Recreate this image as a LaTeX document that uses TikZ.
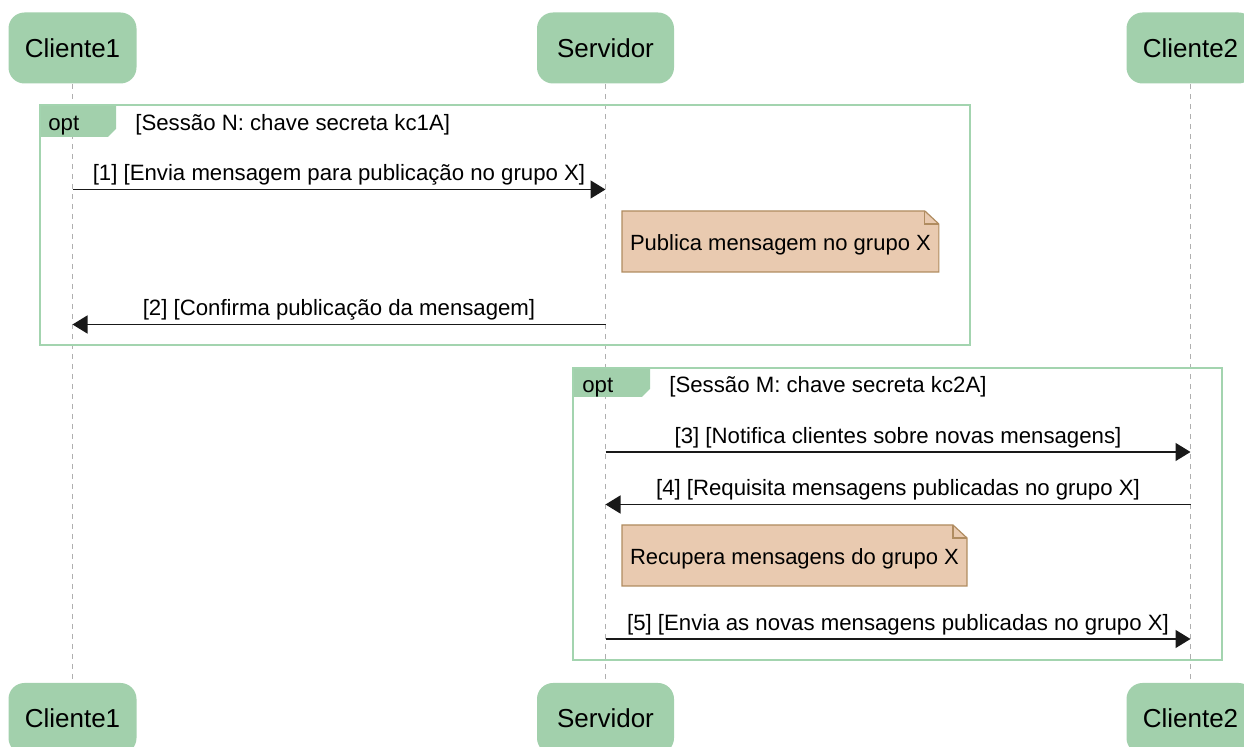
\documentclass[tikz,border=0pt]{standalone}
\usepackage{fontspec}
\setmainfont{Liberation Sans}
\usepackage{xcolor}
\usetikzlibrary{positioning, arrows.meta, backgrounds}
\definecolor{part-green}{RGB}{162,208,172}
\definecolor{frame-green}{RGB}{163,212,175}
\definecolor{note-tan}{RGB}{233,202,176}
\definecolor{note-brown}{RGB}{176,140,96}
\definecolor{life-gray}{RGB}{175,175,175}

\begin{document}
\begin{tikzpicture}[x=0.5pt, y=-0.5pt]
				\tikzset{part/.style={rectangle, fill=part-green, rounded corners=8pt, minimum width=64pt, minimum height=35.5pt, inner xsep=8pt, font=\fontsize{13}{15}\selectfont}}
				\tikzset{lifeline/.style={life-gray, line width=0.5pt, dash pattern=on 2.5pt off 2.5pt}}
				\tikzset{msg/.style={-{Triangle[length=7.5pt, width=9pt]}, line width=0.75pt, black!90}}
				\tikzset{lbl/.style={above, midway, inner sep=2pt, yshift=-0.3pt, font=\fontsize{11.1}{13}\selectfont, text=black}}
				\tikzset{frame/.style={draw=frame-green, line width=1.25pt}}
				\tikzset{tag/.style={fill=part-green}}
				\tikzset{guard/.style={anchor=base west, inner sep=0pt, font=\fontsize{11.1}{13}\selectfont}}
				\tikzset{note/.style={anchor=north west, inner xsep=4pt, inner ysep=0pt, outer sep=0pt, text height=19.85pt, text depth=10.65pt, font=\fontsize{11}{13}\selectfont}}
				
				\useasboundingbox (0,0) rectangle (1244,747);
				
				% participants
				\node[part] (c1top) at (72.5,48) {Cliente1};
				\node[part, minimum width=68.5pt] (srvtop) at (605.5,48) {Servidor};
				\node[part] (c2top) at (1190.5,48) {Cliente2};
				\node[part] (c1bot) at (72.5,718.5) {Cliente1};
				\node[part, minimum width=68.5pt] (srvbot) at (605.5,718.5) {Servidor};
				\node[part] (c2bot) at (1190.5,718.5) {Cliente2};
				
				\draw[lifeline] (c1top) -- (c1bot);
				\draw[lifeline] (srvtop) -- (srvbot);
				\draw[lifeline] (c2top) -- (c2bot);
				
				% opt N
				\fill[tag] (40,105) -- (116,105) -- (116,129) -- (108,137) -- (40,137) -- cycle;
				\draw[frame] (40,105) rectangle (970,345);
				\node[guard] (opt1) at (48,131) {opt};
				\node[guard] (sess1) at (135,131) {[Sessão N: chave secreta kc1A]};
				
				% opt M
				\fill[tag] (573,368) -- (650,368) -- (650,389) -- (642,397) -- (573,397) -- cycle;
				\draw[frame] (573,368) rectangle (1222,660);
				\node[guard] (opt2) at (582,392.5) {opt};
				\node[guard] (sess2) at (669,392.5) {[Sessão M: chave secreta kc2A]};
				
				% messages
				\coordinate (row1) at (0,189.5);
				\coordinate (row2) at (0,324.5);
				\coordinate (row3) at (0,452);
				\coordinate (row4) at (0,504.5);
				\coordinate (row5) at (0,639);
				\draw[msg] (c1top |- row1) -- node[lbl] {[1] [Envia mensagem para publicação no grupo X]} (srvtop |- row1);
				\draw[msg] (srvtop |- row2) -- node[lbl] {[2] [Confirma publicação da mensagem]} (c1top |- row2);
				\draw[msg] (srvtop |- row3) -- node[lbl] {[3] [Notifica clientes sobre novas mensagens]} (c2top |- row3);
				\draw[msg] (c2top |- row4) -- node[lbl] {[4] [Requisita mensagens publicadas no grupo X]} (srvtop |- row4);
				\draw[msg] (srvtop |- row5) -- node[lbl] {[5] [Envia as novas mensagens publicadas no grupo X]} (c2top |- row5);
				
				% notes
				\node[note] (note1) at (622,211) {Publica mensagem no grupo X};
				\node[note] (note2) at (622,525) {Recupera mensagens do grupo X};
				\begin{scope}[on background layer]
					\filldraw[fill=note-tan, draw=note-brown, line width=0.6pt]
					(note1.south west) -- (note1.north west) -- ([xshift=-7pt]note1.north east)
					-- ([yshift=-6.5pt]note1.north east) -- (note1.south east) -- cycle;
					\draw[note-brown, line width=0.6pt] ([xshift=-7pt]note1.north east) |- ([yshift=-6.5pt]note1.north east);
					\filldraw[fill=note-tan, draw=note-brown, line width=0.6pt]
					(note2.south west) -- (note2.north west) -- ([xshift=-7pt]note2.north east)
					-- ([yshift=-6.5pt]note2.north east) -- (note2.south east) -- cycle;
					\draw[note-brown, line width=0.6pt] ([xshift=-7pt]note2.north east) |- ([yshift=-6.5pt]note2.north east);
				\end{scope}
\end{tikzpicture}
\end{document}
